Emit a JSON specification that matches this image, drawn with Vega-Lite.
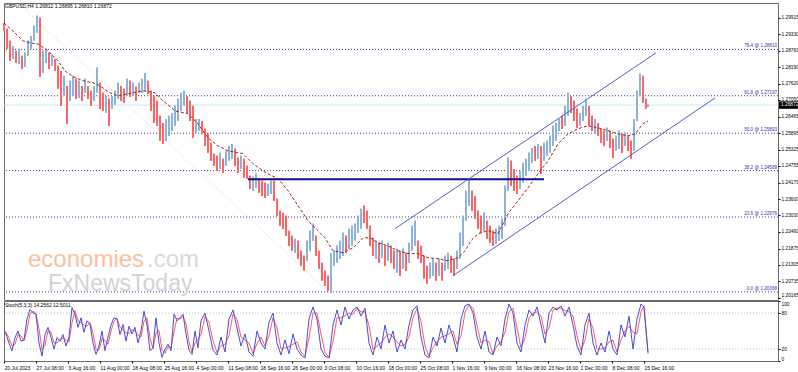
{
"$schema":"https://vega.github.io/schema/vega-lite/v6.json",
"background":"white",
"padding":{"left":1,"top":2,"right":0,"bottom":0},
"spacing":1,
"bounds":"flush",
"config":{
 "view":{"stroke":"#6b6b6b","strokeWidth":1},
 "axis":{"labelOverlap":false}
},
"datasets":{
 "one":[{"n":1}],
 "fib":[
  {"price":1.28810,"label":"76.4 @ 1.28810"},
  {"price":1.27197,"label":"61.8 @ 1.27197"},
  {"price":1.25893,"label":"50.0 @ 1.25893"},
  {"price":1.24589,"label":"38.2 @ 1.24589"},
  {"price":1.22976,"label":"23.6 @ 1.22976"},
  {"price":1.20368,"label":"0.0 @ 1.20368"}
 ],
 "fibdiag":[{"i":18,"p":1.3033},{"i":326,"p":1.2034}],
 "neck":[{"i":245,"p":1.2429},{"i":541,"p":1.2429}],
 "chan":[
  {"ln":"upper","i":392,"p":1.2257},{"ln":"upper","i":653,"p":1.2869},
  {"ln":"lower","i":450,"p":1.2093},{"ln":"lower","i":712,"p":1.2712}
 ],
 "ma":[
  {"i":1,"p":1.2973},{"i":13,"p":1.2935},{"i":20,"p":1.2911},{"i":27,"p":1.2904},{"i":35,"p":1.2900},{"i":45,"p":1.2876},{"i":55,"p":1.2841},{"i":62,"p":1.2806},{"i":70,"p":1.2786},{"i":80,"p":1.2772},{"i":90,"p":1.2765},{"i":97,"p":1.2754},{"i":107,"p":1.2730},{"i":115,"p":1.2719},{"i":130,"p":1.2730},{"i":140,"p":1.2737},{"i":152,"p":1.2730},{"i":160,"p":1.2702},{"i":165,"p":1.2688},{"i":172,"p":1.2667},{"i":185,"p":1.2657},{"i":195,"p":1.2622},{"i":205,"p":1.2573},{"i":215,"p":1.2545},{"i":225,"p":1.2528},{"i":240,"p":1.2518},{"i":250,"p":1.2483},{"i":263,"p":1.2451},{"i":275,"p":1.2431},{"i":285,"p":1.2389},{"i":295,"p":1.2337},{"i":305,"p":1.2284},{"i":315,"p":1.2250},{"i":322,"p":1.2225},{"i":330,"p":1.2180},{"i":340,"p":1.2173},{"i":350,"p":1.2190},{"i":360,"p":1.2225},{"i":367,"p":1.2225},{"i":375,"p":1.2208},{"i":385,"p":1.2197},{"i":395,"p":1.2180},{"i":405,"p":1.2170},{"i":415,"p":1.2170},{"i":425,"p":1.2156},{"i":435,"p":1.2152},{"i":445,"p":1.2145},{"i":455,"p":1.2156},{"i":462,"p":1.2180},{"i":468,"p":1.2215},{"i":475,"p":1.2239},{"i":485,"p":1.2250},{"i":495,"p":1.2239},{"i":505,"p":1.2309},{"i":515,"p":1.2354},{"i":525,"p":1.2399},{"i":535,"p":1.2448},{"i":545,"p":1.2493},{"i":555,"p":1.2552},{"i":565,"p":1.2587},{"i":575,"p":1.2605},{"i":585,"p":1.2615},{"i":595,"p":1.2608},{"i":605,"p":1.2598},{"i":615,"p":1.2587},{"i":625,"p":1.2580},{"i":632,"p":1.2587},{"i":640,"p":1.2622},{"i":645,"p":1.2632}
 ],
 "bars":[
  {"i":1,"hi":1.2973,"lo":1.2946,"d":"dn"},{"i":4,"hi":1.2953,"lo":1.2883,"d":"dn"},{"i":7,"hi":1.2911,"lo":1.2841,"d":"dn"},{"i":10,"hi":1.2893,"lo":1.2848,"d":"up"},{"i":13,"hi":1.2876,"lo":1.2834,"d":"dn"},{"i":16,"hi":1.2883,"lo":1.2831,"d":"up"},{"i":19,"hi":1.2859,"lo":1.2813,"d":"dn"},{"i":22,"hi":1.2869,"lo":1.2820,"d":"up"},{"i":25,"hi":1.2911,"lo":1.2859,"d":"up"},{"i":28,"hi":1.2928,"lo":1.2883,"d":"up"},{"i":31,"hi":1.2963,"lo":1.2911,"d":"up"},{"i":34,"hi":1.2998,"lo":1.2939,"d":"up"},{"i":37,"hi":1.2991,"lo":1.2786,"d":"dn"},{"i":40,"hi":1.2876,"lo":1.2799,"d":"up"},{"i":43,"hi":1.2883,"lo":1.2834,"d":"up"},{"i":46,"hi":1.2869,"lo":1.2813,"d":"dn"},{"i":49,"hi":1.2862,"lo":1.2824,"d":"up"},{"i":52,"hi":1.2848,"lo":1.2806,"d":"dn"},{"i":55,"hi":1.2824,"lo":1.2744,"d":"dn"},{"i":58,"hi":1.2806,"lo":1.2685,"d":"dn"},{"i":61,"hi":1.2789,"lo":1.2719,"d":"up"},{"i":64,"hi":1.2754,"lo":1.2622,"d":"dn"},{"i":67,"hi":1.2772,"lo":1.2702,"d":"up"},{"i":70,"hi":1.2789,"lo":1.2719,"d":"up"},{"i":73,"hi":1.2779,"lo":1.2709,"d":"dn"},{"i":76,"hi":1.2772,"lo":1.2712,"d":"up"},{"i":79,"hi":1.2754,"lo":1.2702,"d":"dn"},{"i":82,"hi":1.2779,"lo":1.2730,"d":"up"},{"i":85,"hi":1.2754,"lo":1.2709,"d":"dn"},{"i":88,"hi":1.2737,"lo":1.2685,"d":"dn"},{"i":91,"hi":1.2754,"lo":1.2702,"d":"up"},{"i":94,"hi":1.2817,"lo":1.2730,"d":"up"},{"i":97,"hi":1.2765,"lo":1.2674,"d":"dn"},{"i":100,"hi":1.2730,"lo":1.2667,"d":"dn"},{"i":103,"hi":1.2719,"lo":1.2660,"d":"up"},{"i":106,"hi":1.2709,"lo":1.2615,"d":"dn"},{"i":109,"hi":1.2719,"lo":1.2674,"d":"up"},{"i":112,"hi":1.2737,"lo":1.2688,"d":"up"},{"i":115,"hi":1.2765,"lo":1.2709,"d":"up"},{"i":118,"hi":1.2754,"lo":1.2702,"d":"dn"},{"i":121,"hi":1.2744,"lo":1.2695,"d":"dn"},{"i":124,"hi":1.2779,"lo":1.2719,"d":"up"},{"i":127,"hi":1.2772,"lo":1.2716,"d":"dn"},{"i":130,"hi":1.2765,"lo":1.2719,"d":"up"},{"i":133,"hi":1.2751,"lo":1.2702,"d":"dn"},{"i":136,"hi":1.2765,"lo":1.2730,"d":"up"},{"i":139,"hi":1.2779,"lo":1.2730,"d":"up"},{"i":142,"hi":1.2799,"lo":1.2737,"d":"up"},{"i":145,"hi":1.2772,"lo":1.2726,"d":"dn"},{"i":148,"hi":1.2737,"lo":1.2667,"d":"dn"},{"i":151,"hi":1.2719,"lo":1.2625,"d":"dn"},{"i":154,"hi":1.2702,"lo":1.2615,"d":"dn"},{"i":157,"hi":1.2650,"lo":1.2563,"d":"dn"},{"i":160,"hi":1.2625,"lo":1.2552,"d":"dn"},{"i":163,"hi":1.2639,"lo":1.2563,"d":"up"},{"i":166,"hi":1.2650,"lo":1.2580,"d":"up"},{"i":169,"hi":1.2660,"lo":1.2598,"d":"up"},{"i":172,"hi":1.2685,"lo":1.2615,"d":"up"},{"i":175,"hi":1.2709,"lo":1.2632,"d":"up"},{"i":178,"hi":1.2730,"lo":1.2667,"d":"up"},{"i":181,"hi":1.2737,"lo":1.2685,"d":"up"},{"i":184,"hi":1.2719,"lo":1.2660,"d":"dn"},{"i":187,"hi":1.2702,"lo":1.2632,"d":"dn"},{"i":190,"hi":1.2685,"lo":1.2573,"d":"dn"},{"i":193,"hi":1.2639,"lo":1.2591,"d":"up"},{"i":196,"hi":1.2639,"lo":1.2598,"d":"up"},{"i":199,"hi":1.2632,"lo":1.2587,"d":"dn"},{"i":202,"hi":1.2605,"lo":1.2545,"d":"dn"},{"i":205,"hi":1.2587,"lo":1.2521,"d":"dn"},{"i":208,"hi":1.2556,"lo":1.2493,"d":"dn"},{"i":211,"hi":1.2518,"lo":1.2476,"d":"dn"},{"i":214,"hi":1.2511,"lo":1.2458,"d":"dn"},{"i":217,"hi":1.2521,"lo":1.2465,"d":"up"},{"i":220,"hi":1.2500,"lo":1.2451,"d":"dn"},{"i":223,"hi":1.2528,"lo":1.2476,"d":"up"},{"i":226,"hi":1.2545,"lo":1.2493,"d":"up"},{"i":229,"hi":1.2552,"lo":1.2500,"d":"up"},{"i":232,"hi":1.2535,"lo":1.2476,"d":"dn"},{"i":235,"hi":1.2504,"lo":1.2451,"d":"dn"},{"i":238,"hi":1.2511,"lo":1.2465,"d":"up"},{"i":241,"hi":1.2500,"lo":1.2434,"d":"dn"},{"i":244,"hi":1.2476,"lo":1.2431,"d":"dn"},{"i":247,"hi":1.2441,"lo":1.2396,"d":"dn"},{"i":250,"hi":1.2438,"lo":1.2389,"d":"up"},{"i":253,"hi":1.2448,"lo":1.2399,"d":"up"},{"i":256,"hi":1.2431,"lo":1.2382,"d":"dn"},{"i":259,"hi":1.2424,"lo":1.2371,"d":"dn"},{"i":262,"hi":1.2417,"lo":1.2364,"d":"dn"},{"i":265,"hi":1.2413,"lo":1.2371,"d":"up"},{"i":268,"hi":1.2424,"lo":1.2378,"d":"up"},{"i":271,"hi":1.2424,"lo":1.2354,"d":"dn"},{"i":274,"hi":1.2361,"lo":1.2302,"d":"dn"},{"i":277,"hi":1.2319,"lo":1.2267,"d":"dn"},{"i":280,"hi":1.2312,"lo":1.2257,"d":"dn"},{"i":283,"hi":1.2302,"lo":1.2232,"d":"dn"},{"i":286,"hi":1.2250,"lo":1.2197,"d":"dn"},{"i":289,"hi":1.2232,"lo":1.2180,"d":"dn"},{"i":292,"hi":1.2222,"lo":1.2173,"d":"up"},{"i":295,"hi":1.2215,"lo":1.2152,"d":"dn"},{"i":298,"hi":1.2180,"lo":1.2128,"d":"dn"},{"i":301,"hi":1.2163,"lo":1.2110,"d":"dn"},{"i":304,"hi":1.2215,"lo":1.2145,"d":"up"},{"i":307,"hi":1.2250,"lo":1.2180,"d":"up"},{"i":310,"hi":1.2274,"lo":1.2215,"d":"up"},{"i":313,"hi":1.2232,"lo":1.2163,"d":"dn"},{"i":316,"hi":1.2180,"lo":1.2117,"d":"dn"},{"i":319,"hi":1.2138,"lo":1.2076,"d":"dn"},{"i":322,"hi":1.2110,"lo":1.2058,"d":"dn"},{"i":325,"hi":1.2093,"lo":1.2041,"d":"dn"},{"i":328,"hi":1.2170,"lo":1.2034,"d":"up"},{"i":331,"hi":1.2180,"lo":1.2128,"d":"up"},{"i":334,"hi":1.2197,"lo":1.2138,"d":"up"},{"i":337,"hi":1.2215,"lo":1.2152,"d":"up"},{"i":340,"hi":1.2243,"lo":1.2163,"d":"up"},{"i":343,"hi":1.2232,"lo":1.2173,"d":"dn"},{"i":346,"hi":1.2257,"lo":1.2187,"d":"up"},{"i":349,"hi":1.2267,"lo":1.2197,"d":"up"},{"i":352,"hi":1.2274,"lo":1.2215,"d":"up"},{"i":355,"hi":1.2302,"lo":1.2243,"d":"up"},{"i":358,"hi":1.2326,"lo":1.2257,"d":"up"},{"i":361,"hi":1.2337,"lo":1.2277,"d":"dn"},{"i":364,"hi":1.2319,"lo":1.2257,"d":"dn"},{"i":367,"hi":1.2267,"lo":1.2197,"d":"dn"},{"i":370,"hi":1.2225,"lo":1.2163,"d":"dn"},{"i":373,"hi":1.2215,"lo":1.2152,"d":"up"},{"i":376,"hi":1.2208,"lo":1.2138,"d":"dn"},{"i":379,"hi":1.2215,"lo":1.2156,"d":"up"},{"i":382,"hi":1.2197,"lo":1.2128,"d":"dn"},{"i":385,"hi":1.2208,"lo":1.2145,"d":"up"},{"i":388,"hi":1.2197,"lo":1.2138,"d":"dn"},{"i":391,"hi":1.2180,"lo":1.2117,"d":"dn"},{"i":394,"hi":1.2187,"lo":1.2103,"d":"up"},{"i":397,"hi":1.2180,"lo":1.2093,"d":"dn"},{"i":400,"hi":1.2187,"lo":1.2117,"d":"up"},{"i":403,"hi":1.2173,"lo":1.2110,"d":"dn"},{"i":406,"hi":1.2208,"lo":1.2138,"d":"up"},{"i":409,"hi":1.2267,"lo":1.2180,"d":"up"},{"i":412,"hi":1.2284,"lo":1.2197,"d":"up"},{"i":415,"hi":1.2215,"lo":1.2152,"d":"dn"},{"i":418,"hi":1.2197,"lo":1.2138,"d":"dn"},{"i":421,"hi":1.2163,"lo":1.2083,"d":"dn"},{"i":424,"hi":1.2128,"lo":1.2065,"d":"dn"},{"i":427,"hi":1.2138,"lo":1.2083,"d":"up"},{"i":430,"hi":1.2152,"lo":1.2093,"d":"up"},{"i":433,"hi":1.2138,"lo":1.2076,"d":"dn"},{"i":436,"hi":1.2152,"lo":1.2093,"d":"up"},{"i":439,"hi":1.2138,"lo":1.2076,"d":"dn"},{"i":442,"hi":1.2163,"lo":1.2110,"d":"up"},{"i":445,"hi":1.2173,"lo":1.2117,"d":"up"},{"i":448,"hi":1.2163,"lo":1.2103,"d":"dn"},{"i":451,"hi":1.2152,"lo":1.2093,"d":"dn"},{"i":454,"hi":1.2180,"lo":1.2117,"d":"up"},{"i":457,"hi":1.2243,"lo":1.2152,"d":"up"},{"i":460,"hi":1.2302,"lo":1.2197,"d":"up"},{"i":463,"hi":1.2389,"lo":1.2284,"d":"up"},{"i":466,"hi":1.2431,"lo":1.2337,"d":"up"},{"i":469,"hi":1.2389,"lo":1.2319,"d":"dn"},{"i":472,"hi":1.2371,"lo":1.2291,"d":"dn"},{"i":475,"hi":1.2319,"lo":1.2257,"d":"dn"},{"i":478,"hi":1.2302,"lo":1.2243,"d":"dn"},{"i":481,"hi":1.2312,"lo":1.2250,"d":"up"},{"i":484,"hi":1.2284,"lo":1.2222,"d":"dn"},{"i":487,"hi":1.2267,"lo":1.2208,"d":"dn"},{"i":490,"hi":1.2250,"lo":1.2197,"d":"dn"},{"i":493,"hi":1.2257,"lo":1.2204,"d":"up"},{"i":496,"hi":1.2267,"lo":1.2215,"d":"up"},{"i":499,"hi":1.2291,"lo":1.2222,"d":"up"},{"i":502,"hi":1.2406,"lo":1.2267,"d":"up"},{"i":505,"hi":1.2504,"lo":1.2389,"d":"up"},{"i":508,"hi":1.2493,"lo":1.2406,"d":"dn"},{"i":511,"hi":1.2465,"lo":1.2389,"d":"dn"},{"i":514,"hi":1.2441,"lo":1.2378,"d":"dn"},{"i":517,"hi":1.2458,"lo":1.2396,"d":"up"},{"i":520,"hi":1.2486,"lo":1.2417,"d":"up"},{"i":523,"hi":1.2500,"lo":1.2441,"d":"up"},{"i":526,"hi":1.2521,"lo":1.2458,"d":"up"},{"i":529,"hi":1.2538,"lo":1.2486,"d":"up"},{"i":532,"hi":1.2545,"lo":1.2493,"d":"dn"},{"i":535,"hi":1.2552,"lo":1.2500,"d":"up"},{"i":538,"hi":1.2545,"lo":1.2448,"d":"dn"},{"i":541,"hi":1.2556,"lo":1.2493,"d":"up"},{"i":544,"hi":1.2563,"lo":1.2511,"d":"up"},{"i":547,"hi":1.2580,"lo":1.2521,"d":"up"},{"i":550,"hi":1.2615,"lo":1.2545,"d":"up"},{"i":553,"hi":1.2625,"lo":1.2563,"d":"up"},{"i":556,"hi":1.2639,"lo":1.2598,"d":"up"},{"i":559,"hi":1.2650,"lo":1.2605,"d":"dn"},{"i":562,"hi":1.2685,"lo":1.2615,"d":"up"},{"i":565,"hi":1.2730,"lo":1.2650,"d":"up"},{"i":568,"hi":1.2719,"lo":1.2660,"d":"dn"},{"i":571,"hi":1.2702,"lo":1.2632,"d":"dn"},{"i":574,"hi":1.2674,"lo":1.2608,"d":"dn"},{"i":577,"hi":1.2660,"lo":1.2615,"d":"up"},{"i":580,"hi":1.2685,"lo":1.2632,"d":"up"},{"i":583,"hi":1.2709,"lo":1.2650,"d":"up"},{"i":586,"hi":1.2685,"lo":1.2615,"d":"dn"},{"i":589,"hi":1.2650,"lo":1.2598,"d":"dn"},{"i":592,"hi":1.2639,"lo":1.2587,"d":"up"},{"i":595,"hi":1.2625,"lo":1.2580,"d":"dn"},{"i":598,"hi":1.2605,"lo":1.2556,"d":"dn"},{"i":601,"hi":1.2598,"lo":1.2545,"d":"dn"},{"i":604,"hi":1.2608,"lo":1.2563,"d":"up"},{"i":607,"hi":1.2598,"lo":1.2538,"d":"dn"},{"i":610,"hi":1.2570,"lo":1.2504,"d":"dn"},{"i":613,"hi":1.2580,"lo":1.2528,"d":"up"},{"i":616,"hi":1.2598,"lo":1.2535,"d":"up"},{"i":619,"hi":1.2587,"lo":1.2521,"d":"dn"},{"i":622,"hi":1.2591,"lo":1.2545,"d":"up"},{"i":625,"hi":1.2580,"lo":1.2528,"d":"dn"},{"i":628,"hi":1.2563,"lo":1.2500,"d":"dn"},{"i":631,"hi":1.2639,"lo":1.2528,"d":"up"},{"i":634,"hi":1.2737,"lo":1.2632,"d":"up"},{"i":637,"hi":1.2796,"lo":1.2719,"d":"up"},{"i":640,"hi":1.2789,"lo":1.2695,"d":"dn"},{"i":643,"hi":1.2709,"lo":1.2675,"d":"dn"},{"i":645,"hi":1.26895,"lo":1.26810,"d":"up"}
 ],
 "stoch":[
  {"i":1,"k":50,"d":52},{"i":3,"k":45,"d":48},{"i":6,"k":30,"d":38},{"i":9,"k":17,"d":25},{"i":12,"k":39,"d":28},{"i":15,"k":50,"d":44},{"i":18,"k":33,"d":42},{"i":21,"k":35,"d":34},{"i":24,"k":70,"d":52},{"i":27,"k":86,"d":78},{"i":30,"k":80,"d":83},{"i":33,"k":78,"d":79},{"i":36,"k":30,"d":54},{"i":39,"k":8,"d":19},{"i":42,"k":44,"d":26},{"i":45,"k":56,"d":50},{"i":48,"k":39,"d":48},{"i":51,"k":20,"d":30},{"i":54,"k":39,"d":30},{"i":57,"k":33,"d":36},{"i":60,"k":44,"d":38},{"i":63,"k":25,"d":35},{"i":66,"k":40,"d":32},{"i":69,"k":89,"d":64},{"i":72,"k":78,"d":84},{"i":75,"k":56,"d":67},{"i":78,"k":72,"d":64},{"i":81,"k":48,"d":60},{"i":84,"k":67,"d":58},{"i":87,"k":61,"d":64},{"i":90,"k":30,"d":46},{"i":93,"k":11,"d":20},{"i":96,"k":25,"d":18},{"i":99,"k":50,"d":38},{"i":102,"k":17,"d":34},{"i":105,"k":40,"d":28},{"i":108,"k":60,"d":50},{"i":111,"k":72,"d":66},{"i":114,"k":70,"d":71},{"i":117,"k":44,"d":57},{"i":120,"k":61,"d":52},{"i":123,"k":33,"d":47},{"i":126,"k":58,"d":46},{"i":129,"k":45,"d":52},{"i":132,"k":56,"d":50},{"i":135,"k":30,"d":43},{"i":138,"k":50,"d":40},{"i":141,"k":83,"d":66},{"i":144,"k":60,"d":72},{"i":147,"k":17,"d":38},{"i":150,"k":22,"d":20},{"i":153,"k":72,"d":47},{"i":156,"k":30,"d":51},{"i":159,"k":6,"d":18},{"i":162,"k":20,"d":13},{"i":165,"k":28,"d":24},{"i":168,"k":17,"d":22},{"i":171,"k":78,"d":48},{"i":174,"k":67,"d":72},{"i":177,"k":72,"d":70},{"i":180,"k":78,"d":75},{"i":183,"k":45,"d":62},{"i":186,"k":18,"d":32},{"i":189,"k":11,"d":15},{"i":192,"k":50,"d":30},{"i":195,"k":22,"d":36},{"i":198,"k":67,"d":44},
  {"i":202,"k":80,"d":74},{"i":206,"k":50,"d":65},{"i":210,"k":18,"d":34},{"i":214,"k":10,"d":14},{"i":218,"k":40,"d":25},{"i":222,"k":15,"d":28},{"i":226,"k":70,"d":42},{"i":230,"k":85,"d":78},{"i":234,"k":55,"d":70},{"i":238,"k":25,"d":40},{"i":242,"k":45,"d":35},{"i":246,"k":15,"d":30},{"i":250,"k":8,"d":12},{"i":254,"k":50,"d":29},{"i":258,"k":30,"d":40},{"i":262,"k":20,"d":25},{"i":266,"k":65,"d":42},{"i":270,"k":80,"d":72},{"i":274,"k":30,"d":55},{"i":278,"k":10,"d":20},{"i":282,"k":35,"d":22},{"i":286,"k":12,"d":24},{"i":290,"k":45,"d":28},{"i":294,"k":20,"d":32},{"i":298,"k":10,"d":15},{"i":302,"k":5,"d":8},{"i":306,"k":70,"d":38},{"i":310,"k":90,"d":80},{"i":314,"k":70,"d":80},{"i":318,"k":20,"d":45},{"i":322,"k":8,"d":14},{"i":326,"k":5,"d":6},{"i":330,"k":60,"d":32},{"i":334,"k":85,"d":72},{"i":338,"k":60,"d":72},{"i":342,"k":90,"d":75},{"i":346,"k":70,"d":80},{"i":350,"k":85,"d":78},{"i":354,"k":90,"d":88},{"i":358,"k":75,"d":82},{"i":362,"k":88,"d":82},{"i":366,"k":30,"d":59},{"i":370,"k":10,"d":20},{"i":374,"k":40,"d":25},{"i":378,"k":20,"d":30},{"i":382,"k":60,"d":40},{"i":386,"k":30,"d":45},{"i":390,"k":50,"d":40},{"i":394,"k":15,"d":32},{"i":398,"k":35,"d":25},{"i":402,"k":20,"d":28},{"i":406,"k":60,"d":40},{"i":410,"k":85,"d":72},{"i":414,"k":92,"d":88},{"i":418,"k":40,"d":66},{"i":422,"k":10,"d":25},{"i":426,"k":5,"d":8},{"i":430,"k":40,"d":22},{"i":434,"k":25,"d":32},{"i":438,"k":55,"d":40},{"i":442,"k":30,"d":42},{"i":446,"k":60,"d":45},{"i":450,"k":40,"d":50},{"i":454,"k":15,"d":28},{"i":458,"k":70,"d":42},{"i":462,"k":92,"d":81},{"i":466,"k":95,"d":93},{"i":470,"k":80,"d":88},{"i":474,"k":40,"d":60},{"i":478,"k":20,"d":30},{"i":482,"k":50,"d":35},{"i":486,"k":15,"d":32},{"i":490,"k":10,"d":12},{"i":494,"k":40,"d":25},{"i":498,"k":25,"d":32},{"i":502,"k":70,"d":48},{"i":506,"k":95,"d":82},{"i":510,"k":80,"d":88},{"i":514,"k":30,"d":55},{"i":518,"k":15,"d":22},{"i":522,"k":60,"d":38},{"i":526,"k":85,"d":72},{"i":530,"k":75,"d":80},{"i":534,"k":90,"d":82},{"i":538,"k":60,"d":75},{"i":542,"k":30,"d":45},{"i":546,"k":80,"d":55},{"i":550,"k":90,"d":85},{"i":554,"k":85,"d":88},{"i":558,"k":92,"d":88},{"i":562,"k":75,"d":84},{"i":566,"k":90,"d":82},{"i":570,"k":60,"d":75},{"i":574,"k":25,"d":42},{"i":578,"k":10,"d":18},{"i":582,"k":60,"d":35},{"i":586,"k":80,"d":70},{"i":590,"k":30,"d":55},{"i":594,"k":10,"d":20},{"i":598,"k":30,"d":20},{"i":602,"k":15,"d":22},{"i":606,"k":50,"d":32},{"i":610,"k":20,"d":35},{"i":614,"k":10,"d":15},{"i":618,"k":60,"d":35},{"i":622,"k":40,"d":50},{"i":626,"k":75,"d":58},{"i":630,"k":20,"d":48},{"i":634,"k":70,"d":45},{"i":638,"k":95,"d":82},{"i":641,"k":90,"d":92},{"i":645,"k":14.26,"d":12.50}
 ]
},
"vconcat":[
 {
  "width":774,"height":297,
  "layer":[
   {"data":{"name":"bars"},"mark":{"type":"rule","strokeWidth":2},
    "encoding":{"x":{"field":"i","type":"quantitative","scale":{"domain":[1,775],"nice":false,"zero":false},"axis":null},
     "y":{"field":"lo","type":"quantitative","scale":{"domain":[1.20085,1.30426],"nice":false,"zero":false},"title":null,
       "axis":{"orient":"right","title":null,"values":[1.29915,1.2933,1.2876,1.2819,1.2762,1.2705,1.26465,1.25895,1.25325,1.24755,1.2417,1.236,1.2303,1.2246,1.21875,1.21305,1.20735,1.20165],"tickCount":100,"format":".5f","grid":false,"domain":false,"tickSize":2,"tickColor":"#000000","labelColor":"#000000","labelFont":"Liberation Sans","labelFontSize":4.8,"labelPadding":1,"labelOverlap":false,"labelBound":false,"labelFlush":3}},
     "y2":{"field":"hi"},
     "color":{"field":"d","type":"nominal","scale":{"domain":["dn","up"],"range":["#ff6464","#8cb4d8"]},"legend":null}}},
   {"data":{"name":"one"},"mark":{"type":"rule","color":"#c4ebf3","strokeWidth":1},
    "encoding":{"y":{"datum":1.26872,"type":"quantitative","title":null}}},
   {"data":{"name":"fibdiag"},"mark":{"type":"line","color":"#dccfcf","strokeWidth":1,"strokeDash":[1,2],"clip":true},
    "encoding":{"x":{"field":"i","type":"quantitative","axis":null},"y":{"field":"p","type":"quantitative","title":null}}},
   {"data":{"name":"fib"},"mark":{"type":"rule","color":"#3333a8","strokeWidth":1,"strokeDash":[1,2]},
    "encoding":{"y":{"field":"price","type":"quantitative","title":null}}},
   {"data":{"name":"fib"},"mark":{"type":"text","color":"#3333a8","align":"right","baseline":"bottom","dy":-1,"font":"Liberation Sans","fontSize":4.6},
    "encoding":{"x":{"datum":774,"type":"quantitative","axis":null},"y":{"field":"price","type":"quantitative","title":null},"text":{"field":"label"}}},
   {"data":{"name":"one"},"mark":{"type":"text","text":"economies","color":"#f8c2a0","align":"left","baseline":"alphabetic","font":"Liberation Sans","fontSize":24},
    "encoding":{"x":{"datum":25,"type":"quantitative","axis":null},"y":{"datum":1.2124,"type":"quantitative","title":null}}},
   {"data":{"name":"one"},"mark":{"type":"text","text":".com","color":"#d9d9d9","align":"left","baseline":"alphabetic","font":"Liberation Sans","fontSize":24},
    "encoding":{"x":{"datum":144,"type":"quantitative","axis":null},"y":{"datum":1.2124,"type":"quantitative","title":null}}},
   {"data":{"name":"one"},"mark":{"type":"text","text":"FxNewsToday","color":"#d2d2d2","align":"left","baseline":"alphabetic","font":"Liberation Sans","fontSize":23},
    "encoding":{"x":{"datum":45,"type":"quantitative","axis":null},"y":{"datum":1.2041,"type":"quantitative","title":null}}},
   {"data":{"name":"bars"},"mark":{"type":"rule","strokeWidth":2},
    "encoding":{"x":{"field":"i","type":"quantitative","axis":null},
     "y":{"field":"lo","type":"quantitative","title":null},
     "y2":{"field":"hi"},
     "color":{"field":"d","type":"nominal","legend":null}}},
   {"data":{"name":"ma"},"mark":{"type":"line","color":"#9e2020","strokeWidth":1,"strokeDash":[3,2]},
    "encoding":{"x":{"field":"i","type":"quantitative","axis":null},"y":{"field":"p","type":"quantitative","title":null}}},
   {"data":{"name":"neck"},"mark":{"type":"line","color":"#10108a","strokeWidth":2},
    "encoding":{"x":{"field":"i","type":"quantitative","axis":null},"y":{"field":"p","type":"quantitative","title":null}}},
   {"data":{"name":"chan"},"mark":{"type":"line","color":"#5a5ac8","strokeWidth":1},
    "encoding":{"x":{"field":"i","type":"quantitative","axis":null},"y":{"field":"p","type":"quantitative","title":null},"detail":{"field":"ln"}}},
   {"data":{"name":"one"},"mark":{"type":"text","text":"GBPUSD,H4  1.26812 1.26895 1.26810 1.26872","color":"#000000","align":"left","baseline":"top","dx":1,"dy":1,"font":"Liberation Sans","fontSize":5},
    "encoding":{"x":{"datum":1,"type":"quantitative","axis":null},"y":{"datum":1.30426,"type":"quantitative","title":null}}},
   {"data":{"name":"one"},"mark":{"type":"rect","color":"#000000"},
    "encoding":{"x":{"datum":776,"type":"quantitative","axis":null},"x2":{"datum":797},"y":{"datum":1.27002,"type":"quantitative","title":null},"y2":{"datum":1.26742}}},
   {"data":{"name":"one"},"mark":{"type":"text","text":"1.26872","color":"#ffffff","align":"left","baseline":"middle","dx":1,"font":"Liberation Sans","fontSize":4.8},
    "encoding":{"x":{"datum":777,"type":"quantitative","axis":null},"y":{"datum":1.26872,"type":"quantitative","title":null}}}
  ]
 },
 {
  "width":774,"height":60,
  "layer":[
   {"data":{"name":"stoch"},"mark":{"type":"line","color":"#ff5a5a","strokeWidth":1},
    "encoding":{"x":{"field":"i","type":"quantitative","scale":{"domain":[1,775],"nice":false,"zero":false},"title":null,
      "axis":{"orient":"bottom","title":null,"values":[1,33,65,97,129,161,193,225,257,289,321,353,385,417,449,481,513,545,577,609,641],"tickCount":100,"labelAlign":"left","labelPadding":2,"labelFlush":false,"labelOverlap":false,"labelBound":false,"grid":false,"domain":false,"tickSize":2,"tickColor":"#000000","labelColor":"#000000","labelFont":"Liberation Sans","labelFontSize":5,
       "labelExpr":"['20 Jul 2023','27 Jul 08:00','3 Aug 16:00','11 Aug 00:00','18 Aug 08:00','25 Aug 16:00','4 Sep 00:00','11 Sep 08:00','18 Sep 16:00','26 Sep 00:00','3 Oct 08:00','10 Oct 16:00','18 Oct 00:00','25 Oct 08:00','1 Nov 16:00','9 Nov 00:00','16 Nov 08:00','23 Nov 16:00','1 Dec 00:00','8 Dec 08:00','15 Dec 16:00'][round((datum.value-1)/32)]"}},
     "y":{"field":"d","type":"quantitative","scale":{"domain":[0,100],"nice":false},"title":null,
      "axis":{"orient":"right","title":null,"values":[0,20,80,100],"tickCount":100,"format":"d","grid":false,"domain":false,"tickSize":2,"tickColor":"#000000","labelColor":"#000000","labelFont":"Liberation Sans","labelFontSize":4.8,"labelPadding":1,"labelOverlap":false,"labelBound":false,"labelFlush":3}}}},
   {"data":{"name":"one"},"mark":{"type":"rule","color":"#c0c0c0","strokeWidth":1,"strokeDash":[1,2]},
    "encoding":{"y":{"datum":80,"type":"quantitative","title":null}}},
   {"data":{"name":"one"},"mark":{"type":"rule","color":"#c0c0c0","strokeWidth":1,"strokeDash":[1,2]},
    "encoding":{"y":{"datum":20,"type":"quantitative","title":null}}},
   {"data":{"name":"stoch"},"mark":{"type":"line","color":"#4a4ad8","strokeWidth":1},
    "encoding":{"x":{"field":"i","type":"quantitative","title":null},"y":{"field":"k","type":"quantitative","title":null}}},
   {"data":{"name":"one"},"mark":{"type":"text","text":"Stoch(5,3,3) 14.2562 12.5011","color":"#000000","align":"left","baseline":"top","dx":1,"dy":2,"font":"Liberation Sans","fontSize":5},
    "encoding":{"x":{"datum":1,"type":"quantitative","title":null},"y":{"datum":100,"type":"quantitative","title":null}}}
  ]
 }
]
}
